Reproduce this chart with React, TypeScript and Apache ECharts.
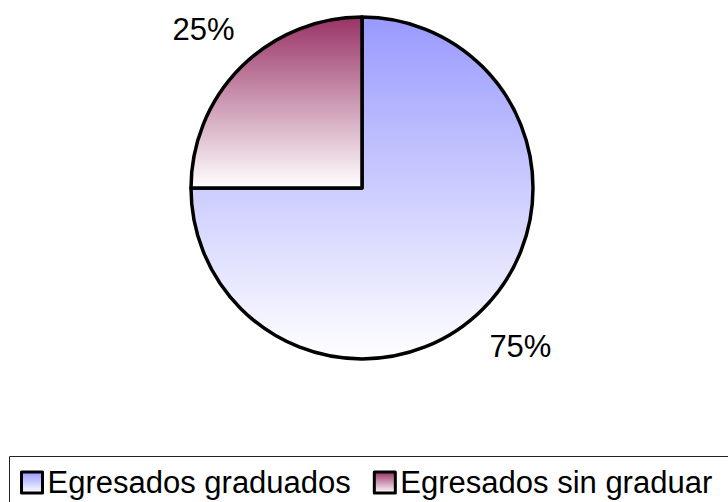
import React, { useEffect, useRef } from "react";
import * as echarts from "echarts";

const categories = ["Egresados graduados", "Egresados sin graduar"];
const values = [75, 25];
const labels = ["75%", "25%"];
const topColors = ["#9999ff", "#993366"];

export default function App() {
  const ref = useRef<HTMLDivElement>(null);
  useEffect(() => {
    const chart = echarts.init(ref.current!, null, { renderer: "svg" });
    const font = "'Liberation Sans', Arial, sans-serif";
    const data = categories.map((name, i) => ({
      name,
      value: values[i],
      itemStyle: {
        color: new echarts.graphic.LinearGradient(0, 0, 0, 1, [
          { offset: 0, color: topColors[i] },
          { offset: 1, color: "#ffffff" },
        ]),
      },
    }));
    chart.setOption({
      animation: false,
      backgroundColor: "#ffffff",
      legend: {
        data: categories,
        left: 20,
        top: 467,
        padding: 0,
        itemWidth: 21,
        itemHeight: 21,
        itemGap: 22,
        icon: "rect",
        itemStyle: { borderColor: "#000", borderWidth: 3 },
        textStyle: { fontFamily: font, fontSize: 31, color: "#000" },
      },
      graphic: [
        {
          type: "rect",
          shape: { x: 9.5, y: 456.5, width: 740, height: 100 },
          style: { fill: "none", stroke: "#222", lineWidth: 1 },
          silent: true,
        },
      ],
      series: [
        {
          type: "pie",
          center: [362, 188],
          radius: [0, 171],
          startAngle: 90,
          clockwise: true,
          data,
          label: { show: false },
          labelLine: { show: false },
          itemStyle: { borderColor: "#000", borderWidth: 3.5 },
          emphasis: { disabled: true },
          silent: true,
        },
        {
          type: "pie",
          center: [362, 188],
          radius: [0, 442],
          startAngle: 90,
          clockwise: true,
          data: categories.map((name, i) => ({
            name,
            value: values[i],
            itemStyle: { color: "rgba(0,0,0,0)" },
            label: { formatter: labels[i] },
          })),
          label: {
            show: true,
            position: "inside",
            fontFamily: font,
            fontSize: 31,
            color: "#000",
          },
          labelLine: { show: false },
          itemStyle: { borderWidth: 0 },
          emphasis: { disabled: true },
          silent: true,
          z: 3,
          legendHoverLink: false,
        },
      ],
    });
    return () => chart.dispose();
  }, []);
  return (
    <div
      ref={ref}
      style={{ position: "fixed", left: 0, top: 0, width: 728, height: 502 }}
    />
  );
}
